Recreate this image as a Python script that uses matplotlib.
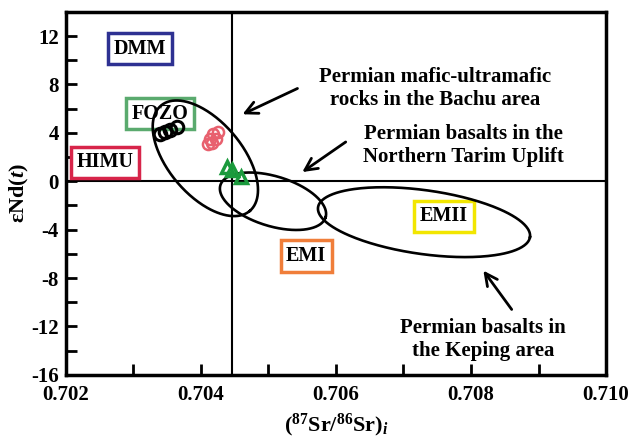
import numpy as np
import matplotlib.pyplot as plt
from matplotlib.ticker import MultipleLocator

plt.rcParams['font.family'] = 'Liberation Serif'
plt.rcParams['font.weight'] = 'bold'
plt.rcParams['axes.unicode_minus'] = False
plt.rcParams['mathtext.fontset'] = 'custom'
plt.rcParams['mathtext.rm'] = 'Liberation Serif:bold'
plt.rcParams['mathtext.it'] = 'Liberation Serif:italic:bold'
plt.rcParams['mathtext.bf'] = 'Liberation Serif:bold'

# samples
bachu_sr = [0.70340, 0.70347, 0.70354, 0.70364]
bachu_nd = [3.93, 4.05, 4.20, 4.48]
pink_sr = [0.70418, 0.70413, 0.70422, 0.70411, 0.70416, 0.70425]
pink_nd = [3.93, 3.52, 3.52, 3.11, 3.19, 4.04]
tri_sr = [0.70438, 0.70446, 0.70459]
tri_nd = [1.15, 0.91, 0.33]

# mantle end-members
em_names = ['DMM', 'FOZO', 'HIMU', 'EMII', 'EMI']
em_sr = [0.70310, 0.70339, 0.70258, 0.70760, 0.70556]
em_nd = [10.96, 5.6, 1.57, -2.89, -6.18]
em_colors = ['#2e3192', '#5aaa6e', '#d7254a', '#f2e600', '#f07e3a']

# fields: centre (sr, nd), semi-axes a, b in pixels, tilt in degrees
field_sr = [0.704065, 0.705067, 0.707304]
field_nd = [1.9, -1.65, -3.38]
field_a = [69, 55, 107]
field_b = [37, 25, 32]
field_tilt = [-50, -17, -8]

sr_ref = 0.70446

# pixel -> data conversion for the ellipse shapes
SX = 0.001 / 67.5
SY = 1 / 12.13

fig = plt.figure(figsize=(6.28, 4.41), dpi=100)
ax = fig.add_axes([0.105, 0.150, 0.86, 0.823])

t = np.linspace(0, 2 * np.pi, 300)
for cx, cy, a, b, th in zip(field_sr, field_nd, field_a, field_b, field_tilt):
    r = np.radians(th)
    px = a * np.cos(t) * np.cos(r) - b * np.sin(t) * np.sin(r)
    py = a * np.cos(t) * np.sin(r) + b * np.sin(t) * np.cos(r)
    ax.plot(cx + px * SX, cy + py * SY, color='black', lw=1.9, zorder=3)

ax.axhline(0, color='black', lw=1.5, zorder=1)
ax.axvline(sr_ref, color='black', lw=1.5, zorder=1)

ax.plot(pink_sr, pink_nd, 'o', ms=8, mfc='none', mec='#e8606e', mew=1.8, zorder=4)
ax.plot(bachu_sr, bachu_nd, 'o', ms=9, mfc='none', mec='black', mew=2.2, zorder=4)
ax.plot(tri_sr, tri_nd, '^', ms=9, mfc='none', mec='#1a9a3c', mew=2.5, zorder=4)

for name, x, y, c in zip(em_names, em_sr, em_nd, em_colors):
    ax.text(x, y, name, fontsize=14.5, fontweight='bold', ha='center', va='center',
            bbox=dict(boxstyle='square,pad=0.28', fc='white', ec=c, lw=2.5), zorder=2)

arrow = dict(arrowstyle='->', lw=2, color='black', mutation_scale=22)
ax.annotate('', xy=(0.704578, 5.44), xytext=(0.705467, 7.77), arrowprops=arrow)
ax.annotate('', xy=(0.705467, 0.63), xytext=(0.706178, 3.38), arrowprops=arrow)
ax.annotate('', xy=(0.708159, -7.2), xytext=(0.708627, -10.78), arrowprops=arrow)

ax.text(0.707467, 7.67, 'Permian mafic-ultramafic\nrocks in the Bachu area',
        fontsize=15, ha='center', va='center', linespacing=1.2)
ax.text(0.707881, 2.97, 'Permian basalts in the\nNorthern Tarim Uplift',
        fontsize=15, ha='center', va='center', linespacing=1.2)
ax.text(0.708178, -13.1, 'Permian basalts in\nthe Keping area',
        fontsize=15, ha='center', va='center', linespacing=1.2)

ax.set_xlim(0.702, 0.710)
ax.set_ylim(-16, 14)
ax.xaxis.set_major_locator(MultipleLocator(0.002))
ax.xaxis.set_minor_locator(MultipleLocator(0.001))
ax.yaxis.set_major_locator(MultipleLocator(4))
ax.yaxis.set_minor_locator(MultipleLocator(2))
ax.xaxis.set_major_formatter(lambda v, p: f'{v:.3f}')
ax.set_yticks([-16, -12, -8, -4, 0, 4, 8, 12])
ax.tick_params(which='both', direction='in', length=8, width=2, labelsize=15)
ax.tick_params(axis='x', pad=7)
ax.tick_params(axis='y', pad=5)
for s in ax.spines.values():
    s.set_linewidth(2.5)

ax.set_xlabel(r'($^{87}$Sr/$^{86}$Sr)$_{i}$', fontsize=16, fontweight='bold', labelpad=5)
ax.set_ylabel(r'εNd($t$)', fontsize=16, fontweight='bold', labelpad=0)

fig.savefig('out.png', dpi=100)
